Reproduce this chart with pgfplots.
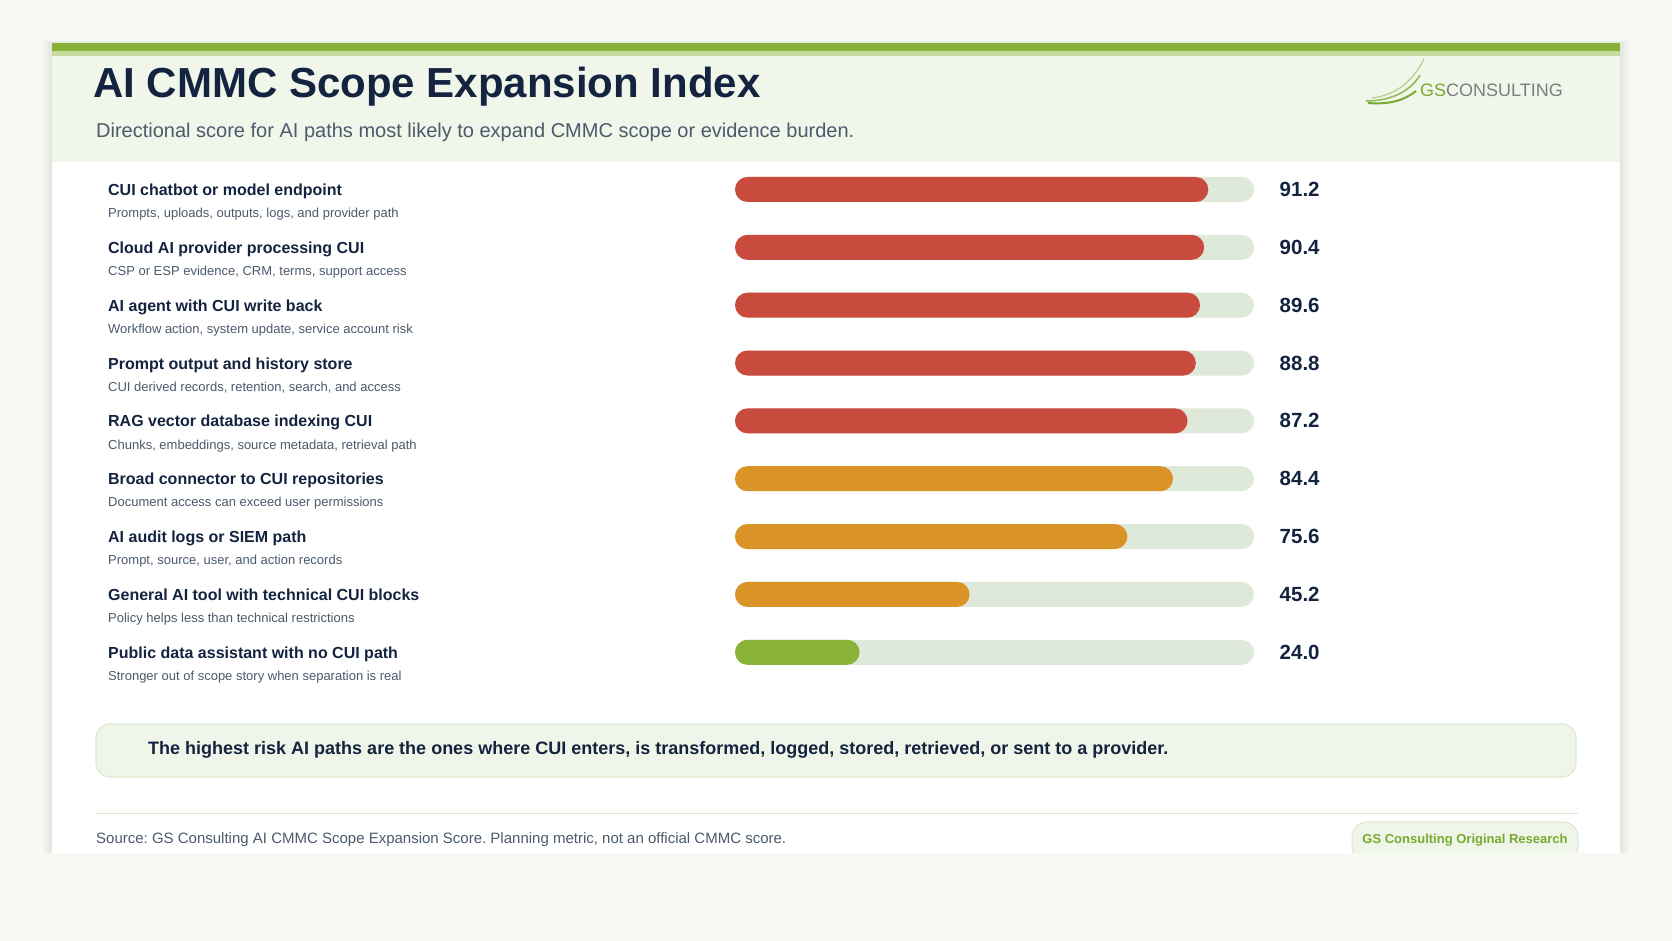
\documentclass[border=0pt]{standalone}
\usepackage{pgfplots}
\pgfplotsset{compat=1.18}
\usepackage{pgfplotstable}
\usepackage{fontspec}
\setmainfont{Liberation Sans}
\frenchspacing
\definecolor{pagebg}{HTML}{F7F9F3}
\definecolor{hdrbg}{HTML}{F0F6E9}
\definecolor{topgreen}{HTML}{86B136}
\definecolor{lightstrip}{HTML}{C4DA9F}
\definecolor{navy}{HTML}{14233F}
\definecolor{slate}{HTML}{4B5A6C}
\definecolor{barred}{HTML}{C94B3E}
\definecolor{barorange}{HTML}{D99327}
\definecolor{bargreen}{HTML}{88B238}
\definecolor{track}{HTML}{DFE9D9}
\definecolor{calloutbg}{HTML}{EFF6E9}
\definecolor{calloutline}{HTML}{DCE9CF}
\definecolor{logogray}{HTML}{7C7E80}
\definecolor{logogreen}{HTML}{78AA30}
\newcommand{\fs}[2]{\fontsize{#1}{#2}\selectfont}

\pgfplotstableread{
row track value
1 100 91.2
2 100 90.4
3 100 89.6
4 100 88.8
5 100 87.2
6 100 84.4
7 100 75.6
8 100 45.2
9 100 24.0
}\scoretable

\begin{document}
\begin{tikzpicture}[x=1pt,y=1pt]
\useasboundingbox (0,0) rectangle (1672,941);
\fill[pagebg] (0,0) rectangle (1672,941);
% card shadow
\foreach \i in {1,...,10}{
  \fill[black,opacity=0.006] (52-\i,88-\i) rectangle (1620+\i,898+0.3*\i);
}
\fill[white] (52,88) rectangle (1620,898.3);
% header
\fill[hdrbg] (52,779) rectangle (1620,884.5);
\fill[lightstrip] (52,884.5) rectangle (1620,889.8);
\fill[topgreen] (52,889.8) rectangle (1620,898.3);
\node[anchor=base west,inner sep=0,text=navy] at (93,843.5) {\fs{42}{50}\bfseries AI CMMC Scope Expansion Index};
\node[anchor=base west,inner sep=0,text=slate] at (96,803.5) {\fs{20}{24}Directional score for AI paths most likely to expand CMMC scope or evidence burden.};
% logo
\draw[logogreen!55,line width=1.2] (1372,843) .. controls (1398,846) and (1414,862) .. (1424,882);
\draw[logogreen!80,line width=1.6] (1366,840) .. controls (1394,840) and (1412,852) .. (1420,866);
\draw[logogreen,line width=2.0] (1368,838) .. controls (1392,836) and (1406,842) .. (1416,850);
\node[anchor=base west,inner sep=0] at (1420,844) {\fs{18}{22}\textcolor{logogreen}{GS}\textcolor{logogray}{CONSULTING}};

\begin{axis}[
  at={(735pt,751.5pt)}, anchor=north west,
  scale only axis, width=519pt, height=491.7pt,
  xmin=0, xmax=100, ymin=1, ymax=9.5, y dir=reverse,
  clip=false, hide x axis,
  axis y line=left, y axis line style={draw=none},
  major tick length=0pt,
  xbar, bar width=25pt, bar shift=0pt,
  /pgf/number format/assume math mode=true,
  ytick={1,...,9},
  yticklabels={{CUI chatbot or model endpoint},{Cloud AI provider processing CUI},{AI agent with CUI write back},{Prompt output and history store},{RAG vector database indexing CUI},{Broad connector to CUI repositories},{AI audit logs or SIEM path},{General AI tool with technical CUI blocks},{Public data assistant with no CUI path}},
  yticklabel style={anchor=base west, inner sep=0pt, xshift=-627pt, yshift=-6pt, font=\fs{16}{20}\bfseries, text=navy},
  extra y ticks={1.406,2.406,3.406,4.406,5.406,6.406,7.406,8.406,9.406},
  extra y tick labels={{Prompts, uploads, outputs, logs, and provider path},{CSP or ESP evidence, CRM, terms, support access},{Workflow action, system update, service account risk},{CUI derived records, retention, search, and access},{Chunks, embeddings, source metadata, retrieval path},{Document access can exceed user permissions},{Prompt, source, user, and action records},{Policy helps less than technical restrictions},{Stronger out of scope story when separation is real}},
  extra y tick style={yticklabel style={font=\fs{13}{16}\mdseries, text=slate, yshift=1.3pt}},
]
\addplot[fill=track, draw=none, rounded corners=12.5pt,
  point meta=explicit,
  nodes near coords={\pgfmathprintnumber[fixed,fixed zerofill,precision=1]{\pgfplotspointmeta}},
  every node near coord/.append style={anchor=west, inner sep=0pt, xshift=25.5pt, font=\fs{20.5}{24}\bfseries, text=navy}]
  table[x=track, y=row, meta=value] {\scoretable};
\addplot[fill=barred, draw=none, rounded corners=12.5pt, restrict y to domain=1:5]
  table[x=value, y=row] {\scoretable};
\addplot[fill=barorange, draw=none, rounded corners=12.5pt, restrict y to domain=6:8]
  table[x=value, y=row] {\scoretable};
\addplot[fill=bargreen, draw=none, rounded corners=12.5pt, restrict y to domain=9:9]
  table[x=value, y=row] {\scoretable};
\end{axis}

% callout
\draw[fill=calloutbg, draw=calloutline, line width=1.2, rounded corners=14] (96,164) rectangle (1576,217);
\node[anchor=base west,inner sep=0,text=navy] at (148,186.3) {\fs{18}{22}\bfseries The highest risk AI paths are the ones where CUI enters, is transformed, logged, stored, retrieved, or sent to a provider.};
% footer
\draw[calloutline, line width=1.5] (95,127.4) -- (1578,127.4);
\node[anchor=base west,inner sep=0,text=slate] at (96,97.5) {\fs{15}{18}Source: GS Consulting AI CMMC Scope Expansion Score. Planning metric, not an official CMMC score.};
\draw[fill=calloutbg, draw=calloutline, line width=1, rounded corners=15] (1352,80) rectangle (1578,119);
\node[anchor=base,inner sep=0,text=logogreen] at (1465,97) {\fs{13}{16}\bfseries GS Consulting Original Research};
\fill[pagebg] (0,0) rectangle (1672,88);
\end{tikzpicture}
\end{document}
